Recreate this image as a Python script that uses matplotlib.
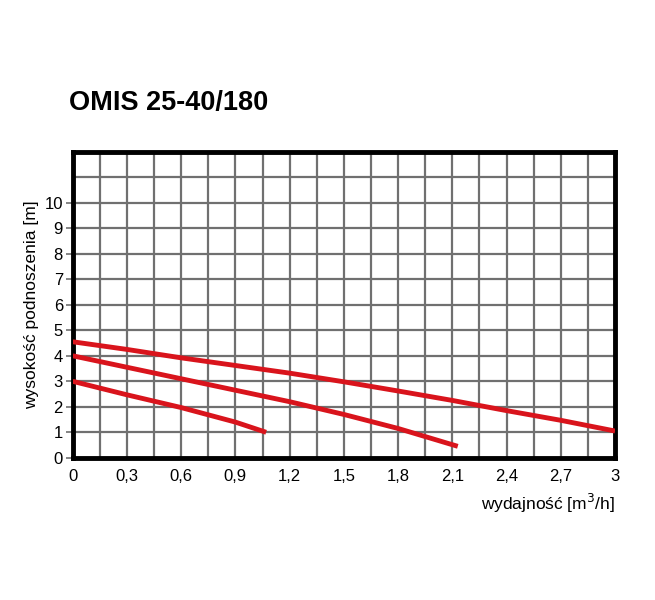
import matplotlib
matplotlib.use("Agg")
import matplotlib.pyplot as plt
import numpy as np

plt.rcParams['font.family'] = ['Liberation Sans', 'DejaVu Sans']

low_q = [0, 0.3, 0.6, 0.9, 1.07]
low_h = [3.0, 2.47, 1.97, 1.4, 1.0]
mid_q = [0, 0.3, 0.6, 0.9, 1.2, 1.5, 1.8, 2.13]
mid_h = [4.0, 3.55, 3.1, 2.65, 2.2, 1.7, 1.15, 0.45]
top_q = [0, 0.3, 0.6, 0.9, 1.2, 1.5, 1.8, 2.1, 2.4, 2.7, 3.0]
top_h = [4.55, 4.25, 3.92, 3.62, 3.32, 2.98, 2.62, 2.25, 1.85, 1.47, 1.05]
xticks = [0, 0.3, 0.6, 0.9, 1.2, 1.5, 1.8, 2.1, 2.4, 2.7, 3]
xlabels = ['0', '0,3', '0,6', '0,9', '1,2', '1,5', '1,8', '2,1', '2,4', '2,7', '3']
yticks = list(range(11))

fig = plt.figure(figsize=(6.55, 6.0), dpi=100)
ax = fig.add_axes([0.111, 0.237, 0.828, 0.51])
ax.set_xlim(0, 3)
ax.set_ylim(0, 12)
for x in np.arange(0.15, 3, 0.15):
    ax.axvline(x, color='#707070', lw=1.6, zorder=1)
for y in range(1, 12):
    ax.axhline(y, color='#707070', lw=1.6, zorder=1)
for q, h in [(low_q, low_h), (mid_q, mid_h), (top_q, top_h)]:
    ax.plot(q, h, color='#d9141c', lw=3.5, solid_capstyle='butt', zorder=3)
for s in ax.spines.values():
    s.set_linewidth(3.5)
    s.set_color('black')
ax.set_xticks(xticks)
ax.set_xticklabels(xlabels, fontsize=12)
ax.set_yticks(yticks)
ax.set_yticklabels([str(v) for v in yticks], fontsize=12)
ax.tick_params(axis='x', length=0, pad=8)
ax.tick_params(axis='y', length=5, width=1.2, color='#707070', pad=2)
ax.set_ylabel('wysokość podnoszenia [m]', fontsize=12.5, labelpad=4)
ax.set_xlabel('wydajność [m$^3$/h]', fontsize=12.5, loc='right', labelpad=6)
fig.text(0.105, 0.828, 'OMIS 25-40/180', fontsize=19.5, fontweight='bold', va='center')
fig.savefig('out.png', dpi=100)
